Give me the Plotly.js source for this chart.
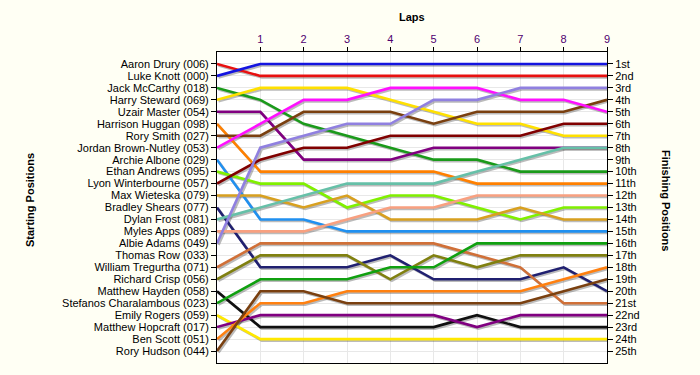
<!DOCTYPE html>
<html>
<head>
<meta charset="utf-8">
<script src="https://cdn.plot.ly/plotly-3.0.1.min.js"></script>
<style>html,body{margin:0;padding:0;background:#fffff4;}#chart{width:700px;height:375px;}</style>
</head>
<body>
<div id="chart"></div>
<script>
// ---- data ----
const laps = [0, 1, 2, 3, 4, 5, 6, 7, 8, 9];
const lapTicks = [1, 2, 3, 4, 5, 6, 7, 8, 9];
const drivers = [
  "Aaron Drury (006)", "Luke Knott (000)", "Jack McCarthy (018)", "Harry Steward (069)",
  "Uzair Master (054)", "Harrison Huggan (098)", "Rory Smith (027)", "Jordan Brown-Nutley (053)",
  "Archie Albone (029)", "Ethan Andrews (095)", "Lyon Winterbourne (057)", "Max Wieteska (079)",
  "Bradley Shears (077)", "Dylan Frost (081)", "Myles Apps (089)", "Albie Adams (049)",
  "Thomas Row (033)", "William Tregurtha (071)", "Richard Crisp (056)", "Matthew Hayden (058)",
  "Stefanos Charalambous (023)", "Emily Rogers (059)", "Matthew Hopcraft (017)", "Ben Scott (051)",
  "Rory Hudson (044)"
];
const finishLabels = ["1st","2nd","3rd","4th","5th","6th","7th","8th","9th","10th","11th","12th",
  "13th","14th","15th","16th","17th","18th","19th","20th","21st","22nd","23rd","24th","25th"];
const positionTicks = [1,2,3,4,5,6,7,8,9,10,11,12,13,14,15,16,17,18,19,20,21,22,23,24,25];

// position of each driver at every lap (lap 0 = start)
const aaronDrury        = [1, 2, 2, 2, 2, 2, 2, 2, 2, 2];
const lukeKnott         = [2, 1, 1, 1, 1, 1, 1, 1, 1, 1];
const jackMcCarthy      = [3, 4, 6, 7, 8, 9, 9, 10, 10, 10];
const harrySteward      = [4, 3, 3, 3, 4, 5, 6, 6, 7, 7];
const uzairMaster       = [5, 5, 9, 9, 9, 8, 8, 8, 8, 8];
const harrisonHuggan    = [6, 10, 10, 10, 10, 10, 11, 11, 11, 11];
const rorySmith         = [7, 7, 5, 5, 5, 6, 5, 5, 5, 4];
const jordanBrownNutley = [8, 6, 4, 4, 3, 3, 3, 4, 4, 5];
const archieAlbone      = [9, 14, 14, 15, 15, 15, 15, 15, 15, 15];
const ethanAndrews      = [10, 11, 11, 13, 12, 12, 13, 14, 13, 13];
const lyonWinterbourne  = [11, 9, 8, 8, 7, 7, 7, 7, 6, 6];
const maxWieteska       = [12, 12, 13, 12, 14, 14, 14, 13, 14, 14];
const bradleyShears     = [13, 18, 18, 18, 17, 19, 19, 19, 18, 20];
const dylanFrost        = [14, 13, 12, 11, 11, 11, 10, 9, 8, 8];
const mylesApps         = [15, 15, 15, 14, 13, 13, 12, 12, 12, 12];
const albieAdams        = [16, 8, 7, 6, 6, 4, 4, 3, 3, 3];
const thomasRow         = [null, null, null, null, null, null, null, null, null, null];
const williamTregurtha  = [18, 16, 16, 16, 16, 16, 17, 18, 21, 21];
const richardCrisp      = [19, 17, 17, 17, 19, 17, 18, 17, 17, 17];
const matthewHayden     = [20, 23, 23, 23, 23, 23, 22, 23, 23, 23];
const stefanosCharalambous = [21, 19, 19, 19, 18, 18, 16, 16, 16, 16];
const emilyRogers       = [22, 24, 24, 24, 24, 24, 24, 24, 24, 24];
const matthewHopcraft   = [23, 22, 22, 22, 22, 22, 23, 22, 22, 22];
const benScott          = [24, 21, 21, 20, 20, 20, 20, 20, 19, 18];
const roryHudson        = [25, 20, 20, 21, 21, 21, 21, 21, 20, 19];

const series = [aaronDrury, lukeKnott, jackMcCarthy, harrySteward, uzairMaster, harrisonHuggan,
  rorySmith, jordanBrownNutley, archieAlbone, ethanAndrews, lyonWinterbourne, maxWieteska,
  bradleyShears, dylanFrost, mylesApps, albieAdams, thomasRow, williamTregurtha, richardCrisp,
  matthewHayden, stefanosCharalambous, emilyRogers, matthewHopcraft, benScott, roryHudson];

// ---- style ----
const colors = ["#e81010", "#1414e0", "#1a9a1a", "#ffe000", "#800080", "#ff8000", "#7a4010",
  "#ff10ff", "#2090f0", "#80f000", "#800000", "#d8a020", "#202070", "#66c0a8", "#f8a080",
  "#9080e0", "#ffffff", "#d07038", "#808010", "#101010", "#10a010", "#ffe800", "#800080",
  "#ff8010", "#7a4010"];

const FONT = "Liberation Sans, Arial, sans-serif";
const traces = [];
// shadows (base subplot, slightly offset axes)
series.forEach((s, i) => {
  traces.push({x: laps, y: s, xaxis: "x", yaxis: "y", type: "scatter", mode: "lines",
    line: {color: "rgba(60,60,60,0.35)", width: 2.6}, hoverinfo: "skip", showlegend: false});
});
// lines
series.forEach((s, i) => {
  traces.push({x: laps, y: s, xaxis: "x2", yaxis: "y2", type: "scatter", mode: "lines",
    name: drivers[i], line: {color: colors[i], width: 2.6}, hoverinfo: "skip", showlegend: false});
});
// invisible trace to carry finishing-position axis
traces.push({x: laps.slice(-1), y: [positionTicks[0]], xaxis: "x2", yaxis: "y3", type: "scatter",
  mode: "none", hoverinfo: "skip", showlegend: false});

const W = 390, H = 311, TOP = 52;
const dx = 1.5 * 9 / W, dy = 1.5 * 26 / H;
const py = (pix) => (TOP + H - pix) / H;   // pixel row -> paper y
const px = (pix) => (pix - 217) / W;       // pixel column -> paper x

const layout = {
  width: 700, height: 375,
  margin: {l: 217, r: 93, t: TOP, b: 12},
  paper_bgcolor: "#fffff4",
  plot_bgcolor: "#ffffff",
  showlegend: false,
  font: {family: FONT, size: 11, color: "#000"},
  xaxis: {range: [0 - dx, 9 - dx], visible: false, fixedrange: true},
  yaxis: {range: [26 - dy, 0 - dy], visible: false, fixedrange: true},
  xaxis2: {overlaying: "x", side: "top", anchor: "y2", range: [0, 9],
    tickmode: "array", tickvals: lapTicks, ticktext: lapTicks.map(String),
    ticks: "outside", ticklen: 4, tickcolor: "#000", tickfont: {family: FONT, size: 11, color: "#500070"},
    showgrid: true, gridcolor: "#e8e8e8", gridwidth: 1, zeroline: false,
    showline: true, linecolor: "#000", linewidth: 1, mirror: true},
  yaxis2: {overlaying: "y", side: "left", anchor: "x2", range: [26, 0],
    tickmode: "array", tickvals: positionTicks, ticktext: drivers,
    ticks: "outside", ticklen: 5, tickcolor: "#000", tickfont: {family: FONT, size: 11, color: "#000"},
    showgrid: true, gridcolor: "#e8e8e8", gridwidth: 1, zeroline: false,
    showline: true, linecolor: "#000", linewidth: 1},
  yaxis3: {overlaying: "y", side: "right", anchor: "x2", range: [26, 0],
    tickmode: "array", tickvals: positionTicks, ticktext: finishLabels,
    ticks: "outside", ticklen: 5, tickcolor: "#000", tickfont: {family: FONT, size: 11, color: "#000"},
    showgrid: false, zeroline: false,
    showline: true, linecolor: "#000", linewidth: 1},
  annotations: [
    {text: "<b>Laps</b>", xref: "paper", yref: "paper", x: 0.5, y: py(17),
      xanchor: "center", yanchor: "middle", showarrow: false, font: {family: FONT, size: 11}},
    {text: "<b>Starting Positions</b>", xref: "paper", yref: "paper", x: px(30), y: py(200),
      xanchor: "center", yanchor: "middle", textangle: -90, showarrow: false, font: {family: FONT, size: 11}},
    {text: "<b>Finishing Positions</b>", xref: "paper", yref: "paper", x: px(666), y: py(200),
      xanchor: "center", yanchor: "middle", textangle: 90, showarrow: false, font: {family: FONT, size: 11}}
  ]
};

Plotly.newPlot("chart", traces, layout, {staticPlot: true, displayModeBar: false});
</script>
</body>
</html>
